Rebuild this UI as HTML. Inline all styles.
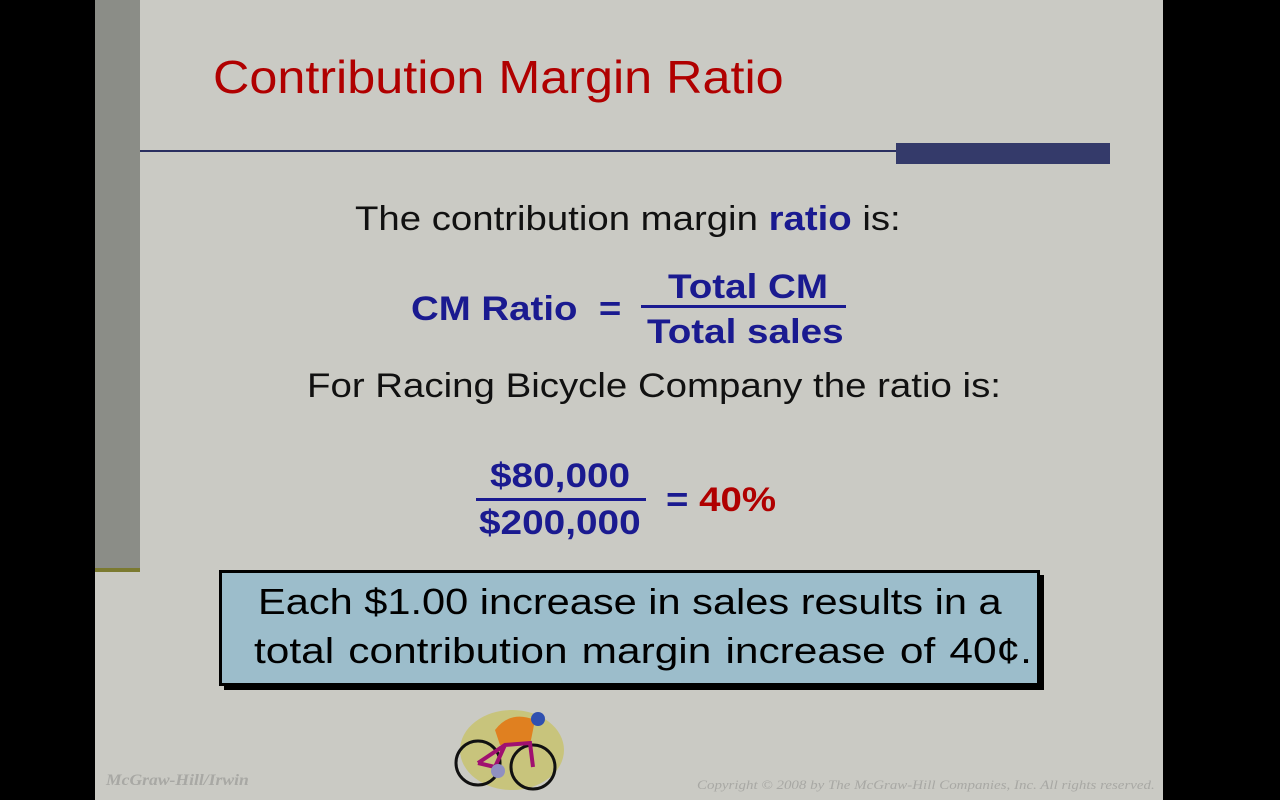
<!DOCTYPE html>
<html><head><style>
body{margin:0;width:1280px;height:800px;background:#000;position:relative;overflow:hidden;font-family:"Liberation Sans",sans-serif}
.a{position:absolute;white-space:nowrap;transform-origin:left top}
</style></head><body>
<div class="a" style="left:95px;top:0;width:1068px;height:800px;background:#cacac4"></div>
<div class="a" style="left:95px;top:0;width:45px;height:568px;background:#8b8d87"></div>
<div class="a" style="left:95px;top:568px;width:45px;height:4px;background:#7b7a30"></div>
<div class="a" style="left:213px;top:50px;font-size:46px;color:#b00000;transform:scaleX(1.094)">Contribution Margin Ratio</div>
<div class="a" style="left:140px;top:150px;width:760px;height:2px;background:#2a2f60"></div>
<div class="a" style="left:896px;top:143px;width:214px;height:21px;background:#343a6a"></div>
<div class="a" style="left:355px;top:200px;font-size:34px;color:#111;transform:scaleX(1.128)">The contribution margin <b style="color:#1a1a90">ratio</b> is:</div>
<div class="a" style="left:411px;top:290px;font-size:34px;font-weight:bold;color:#1a1a90;transform:scaleX(1.13)">CM Ratio&nbsp; =</div>
<div class="a" style="left:668px;top:268px;font-size:34px;font-weight:bold;color:#1a1a90;transform:scaleX(1.135)">Total CM</div>
<div class="a" style="left:641px;top:305px;width:205px;height:3px;background:#1a1a90"></div>
<div class="a" style="left:647px;top:313px;font-size:34px;font-weight:bold;color:#1a1a90;transform:scaleX(1.135)">Total sales</div>
<div class="a" style="left:307px;top:367px;font-size:34px;color:#111;transform:scaleX(1.13)">For Racing Bicycle Company the ratio is:</div>
<div class="a" style="left:490px;top:457px;font-size:34px;font-weight:bold;color:#1a1a90;transform:scaleX(1.14)">$80,000</div>
<div class="a" style="left:476px;top:498px;width:170px;height:3px;background:#1a1a90"></div>
<div class="a" style="left:479px;top:504px;font-size:34px;font-weight:bold;color:#1a1a90;transform:scaleX(1.14)">$200,000</div>
<div class="a" style="left:666px;top:481px;font-size:34px;font-weight:bold;color:#1a1a90;transform:scaleX(1.13)">= <span style="color:#b00000">40%</span></div>
<div class="a" style="left:224px;top:575px;width:820px;height:115px;background:#000"></div>
<div class="a" style="left:219px;top:570px;width:815px;height:110px;background:#9cbdcb;border:3px solid #000"></div>
<div class="a" style="left:258px;top:581px;font-size:36px;color:#000;transform:scaleX(1.154)">Each $1.00 increase in sales results in a</div>
<div class="a" style="left:254px;top:630px;font-size:36px;color:#000;word-spacing:2px;transform:scaleX(1.178)">total contribution margin increase of 40¢.</div>
<svg class="a" style="left:450px;top:705px" width="120" height="95" viewBox="0 0 120 95">
<ellipse cx="62" cy="45" rx="52" ry="40" fill="#c8c47c"/>
<path d="M45 25 Q60 5 85 15 L80 40 L50 40Z" fill="#e08020"/>
<circle cx="88" cy="14" r="7" fill="#3050b0"/>
<circle cx="28" cy="58" r="22" fill="none" stroke="#111" stroke-width="3"/>
<circle cx="83" cy="62" r="22" fill="none" stroke="#111" stroke-width="3"/>
<path d="M28 58 L55 40 L80 38 L83 62 M55 40 L45 62 L28 58" fill="none" stroke="#a01070" stroke-width="4"/>
<circle cx="48" cy="66" r="7" fill="#9090c0"/>
</svg>
<div class="a" style="left:106px;top:772px;font-family:'Liberation Serif',serif;font-style:italic;font-weight:bold;font-size:16px;color:#a8a8a4;transform:scaleX(1.1)">McGraw-Hill/Irwin</div>
<div class="a" style="left:697px;top:777px;font-family:'Liberation Serif',serif;font-style:italic;font-size:13px;color:#a8a8a4;transform:scaleX(1.15)">Copyright © 2008 by The McGraw-Hill Companies, Inc. All rights reserved.</div>
</body></html>
